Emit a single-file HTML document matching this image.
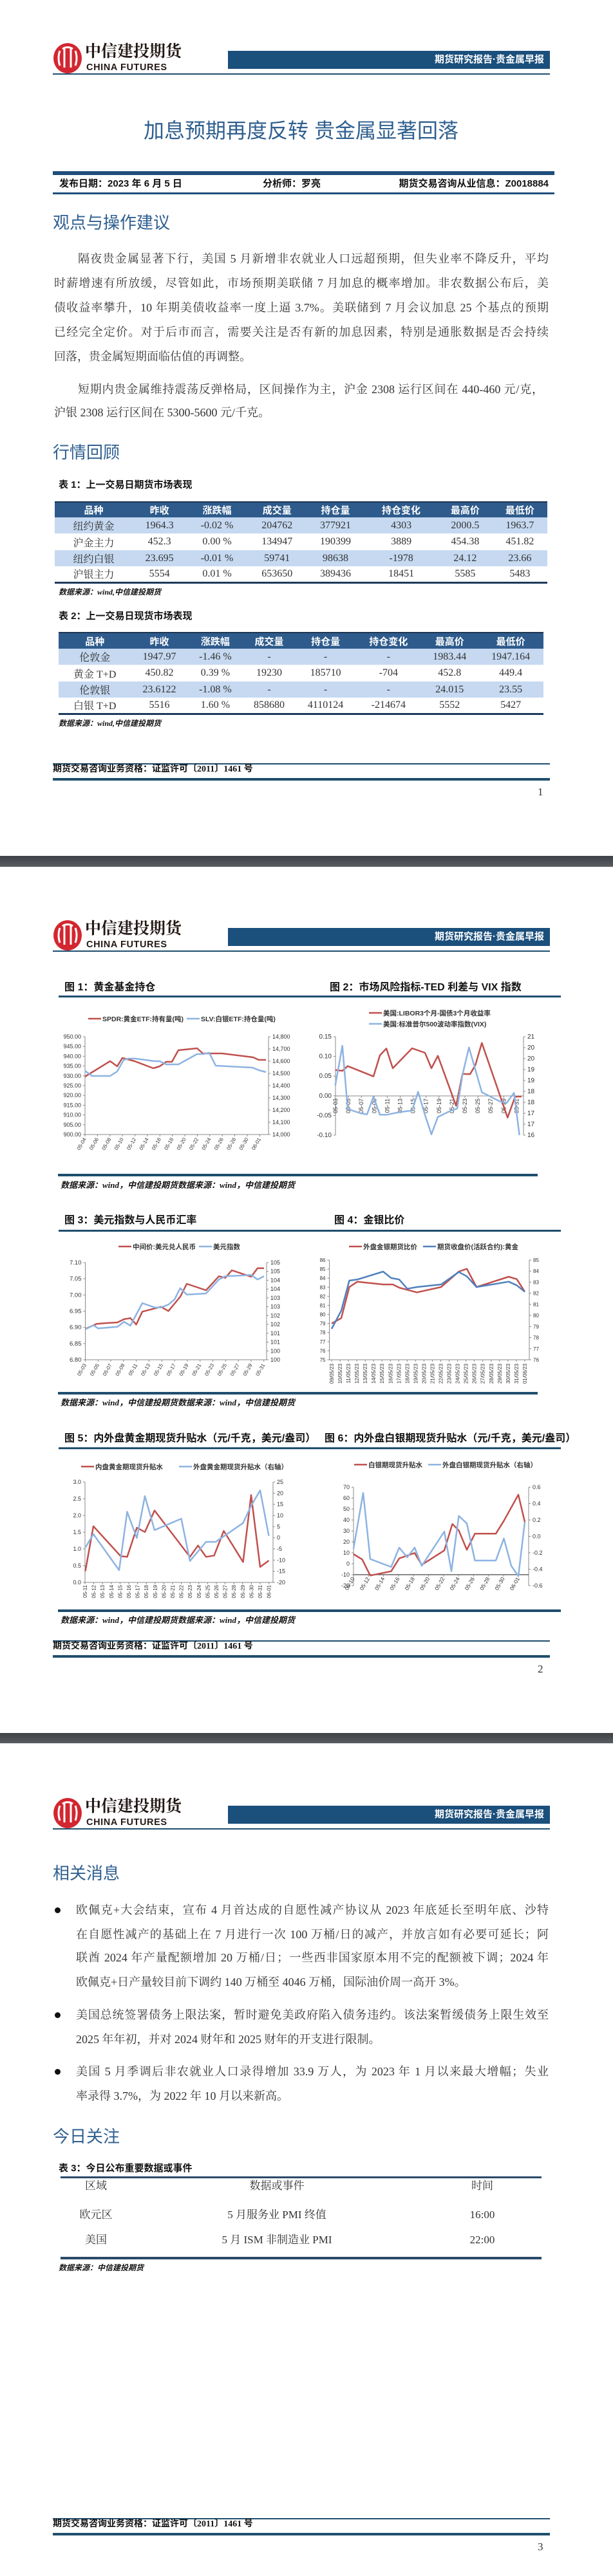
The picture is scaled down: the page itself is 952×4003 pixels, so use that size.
<!DOCTYPE html>
<html><head><meta charset="utf-8">
<style>
*{margin:0;padding:0;box-sizing:border-box}
body{width:952px;height:4003px;position:relative;background:#fff;overflow:hidden;font-family:"Liberation Serif","Noto Serif CJK SC",serif;color:#333}
.a{position:absolute}
.ln{position:absolute;height:38px;line-height:38px;font-size:18px;text-align:justify;text-align-last:justify;color:#333;font-family:"Liberation Serif","Noto Serif CJK SC",serif}
.ll{text-align:left;text-align-last:left}
.h1{position:absolute;left:82px;font-size:26px;color:#2f5f8f;font-family:"Liberation Sans","Noto Sans CJK SC",sans-serif;line-height:34px;height:34px}
.tt{position:absolute;font-size:15px;font-weight:bold;color:#111;font-family:"Liberation Sans","Noto Sans CJK SC",sans-serif;line-height:20px;height:20px}
.src{position:absolute;font-size:12px;font-weight:bold;font-style:italic;color:#111;font-family:"Liberation Serif","Noto Sans CJK SC",serif;line-height:16px;height:16px}
table{position:absolute;border-collapse:collapse;font-family:"Liberation Serif","Noto Serif CJK SC",serif;font-size:16px;color:#333}
td,th{text-align:center;padding:0;white-space:nowrap}
th{background:#2e5b8c;color:#fff;font-family:"Liberation Sans","Noto Sans CJK SC",sans-serif;font-size:15px;font-weight:bold}
tr.b td{background:#c6d9f1}
</style></head><body>
<div id="hf"></div>

<!-- PAGE 1 -->
<div class="a" style="left:0;top:183px;width:935px;text-align:center;font-size:32px;line-height:40px;color:#2f5f8f;font-family:'Liberation Sans','Noto Sans CJK SC',sans-serif">加息预期再度反转 贵金属显著回落</div>
<div class="a" style="left:82px;top:266px;width:779px;height:6px;background:#1f4e7a"></div>
<div class="a" style="left:92px;top:276px;font-size:15px;font-weight:bold;line-height:20px;color:#111;font-family:'Liberation Sans','Noto Sans CJK SC',sans-serif">发布日期：2023 年 6 月 5 日</div>
<div class="a" style="left:408px;top:276px;font-size:15px;font-weight:bold;line-height:20px;color:#111;font-family:'Liberation Sans','Noto Sans CJK SC',sans-serif">分析师：罗亮</div>
<div class="a" style="right:100px;top:276px;font-size:15px;font-weight:bold;line-height:20px;color:#111;font-family:'Liberation Sans','Noto Sans CJK SC',sans-serif">期货交易咨询从业信息：Z0018884</div>
<div class="a" style="left:82px;top:299px;width:779px;height:3px;background:#1f4e7a"></div>
<div class="h1" style="top:329px">观点与操作建议</div>
<div class="ln" style="left:121px;top:383px;width:731px">隔夜贵金属显著下行，美国 5 月新增非农就业人口远超预期，但失业率不降反升，平均</div>
<div class="ln" style="left:84px;top:421px;width:768px">时薪增速有所放缓，尽管如此，市场预期美联储 7 月加息的概率增加。非农数据公布后，美</div>
<div class="ln" style="left:84px;top:459px;width:768px">债收益率攀升，10 年期美债收益率一度上逼 3.7%。美联储到 7 月会议加息 25 个基点的预期</div>
<div class="ln" style="left:84px;top:497px;width:768px">已经完全定价。对于后市而言，需要关注是否有新的加息因素，特别是通胀数据是否会持续</div>
<div class="ln ll" style="left:84px;top:535px;width:768px">回落，贵金属短期面临估值的再调整。</div>
<div class="ln" style="left:121px;top:586px;width:723px">短期内贵金属维持震荡反弹格局，区间操作为主，沪金 2308 运行区间在 440-460 元/克，</div>
<div class="ln ll" style="left:84px;top:622px;width:768px">沪银 2308 运行区间在 5300-5600 元/千克。</div>
<div class="h1" style="top:686px">行情回顾</div>
<div class="tt" style="left:91px;top:744px">表 1：上一交易日期货市场表现</div>
<table style="left:85px;top:779px;width:765px;border-top:2px solid #1d3550;border-bottom:3px solid #1d3a5a">
<tr style="height:24px"><th>品种</th><th>昨收</th><th>涨跌幅</th><th>成交量</th><th>持仓量</th><th>持仓变化</th><th>最高价</th><th>最低价</th></tr>
<tr class="b" style="height:25px"><td>纽约黄金</td><td>1964.3</td><td>-0.02 %</td><td>204762</td><td>377921</td><td>4303</td><td>2000.5</td><td>1963.7</td></tr>
<tr style="height:26px"><td>沪金主力</td><td>452.3</td><td>0.00 %</td><td>134947</td><td>190399</td><td>3889</td><td>454.38</td><td>451.82</td></tr>
<tr class="b" style="height:25px"><td>纽约白银</td><td>23.695</td><td>-0.01 %</td><td>59741</td><td>98638</td><td>-1978</td><td>24.12</td><td>23.66</td></tr>
<tr style="height:25px"><td>沪银主力</td><td>5554</td><td>0.01 %</td><td>653650</td><td>389436</td><td>18451</td><td>5585</td><td>5483</td></tr>
</table>
<div class="src" style="left:91px;top:912px">数据来源：wind,中信建投期货</div>
<div class="tt" style="left:91px;top:948px">表 2：上一交易日现货市场表现</div>
<table style="left:91px;top:982px;width:753px;border-top:2px solid #1d3550;border-bottom:3px solid #1d3a5a">
<tr style="height:25px"><th>品种</th><th>昨收</th><th>涨跌幅</th><th>成交量</th><th>持仓量</th><th>持仓变化</th><th>最高价</th><th>最低价</th></tr>
<tr class="b" style="height:25px"><td>伦敦金</td><td>1947.97</td><td>-1.46 %</td><td>-</td><td>-</td><td>-</td><td>1983.44</td><td>1947.164</td></tr>
<tr style="height:26px"><td>黄金 T+D</td><td>450.82</td><td>0.39 %</td><td>19230</td><td>185710</td><td>-704</td><td>452.8</td><td>449.4</td></tr>
<tr class="b" style="height:25px"><td>伦敦银</td><td>23.6122</td><td>-1.08 %</td><td>-</td><td>-</td><td>-</td><td>24.015</td><td>23.55</td></tr>
<tr style="height:25px"><td>白银 T+D</td><td>5516</td><td>1.60 %</td><td>858680</td><td>4110124</td><td>-214674</td><td>5552</td><td>5427</td></tr>
</table>
<div class="src" style="left:91px;top:1116px">数据来源：wind,中信建投期货</div>

<!-- PAGE 2 titles -->
<div class="tt" style="left:100px;top:1525px;font-size:16px">图 1：黄金基金持仓</div>
<div class="tt" style="left:512px;top:1525px;font-size:16px">图 2：市场风险指标-TED 利差与 VIX 指数</div>
<div class="a" style="left:91px;top:1547px;width:780px;height:3px;background:#1f4e6e"></div>
<div class="a" style="left:90px;top:1824px;width:745px;height:4px;background:#1f4e6e"></div>
<div class="src" style="left:94px;top:1834px;font-size:13px">数据来源：wind，中信建投期货数据来源：wind，中信建投期货</div>
<div class="tt" style="left:100px;top:1887px;font-size:16px">图 3：美元指数与人民币汇率</div>
<div class="tt" style="left:519px;top:1887px;font-size:16px">图 4：金银比价</div>
<div class="a" style="left:91px;top:1911px;width:780px;height:3px;background:#1f4e6e"></div>
<div class="a" style="left:90px;top:2163px;width:745px;height:4px;background:#1f4e6e"></div>
<div class="src" style="left:94px;top:2172px;font-size:13px">数据来源：wind，中信建投期货数据来源：wind，中信建投期货</div>
<div class="tt" style="left:100px;top:2226px;font-size:16px">图 5：内外盘黄金期现货升贴水（元/千克，美元/盎司）</div>
<div class="tt" style="left:504px;top:2226px;font-size:16px">图 6：内外盘白银期现货升贴水（元/千克，美元/盎司）</div>
<div class="a" style="left:91px;top:2249px;width:780px;height:3px;background:#1f4e6e"></div>
<div class="a" style="left:90px;top:2501px;width:781px;height:4px;background:#1f4e6e"></div>
<div class="src" style="left:94px;top:2510px;font-size:13px">数据来源：wind，中信建投期货数据来源：wind，中信建投期货</div>

<!-- PAGE 3 -->
<div class="h1" style="top:2894px">相关消息</div>
<div id="bul"></div>
<div class="ln" style="left:118px;top:2949px;width:734px">欧佩克+大会结束，宣布 4 月首达成的自愿性减产协议从 2023 年底延长至明年底、沙特</div>
<div class="ln" style="left:118px;top:2987px;width:734px">在自愿性减产的基础上在 7 月进行一次 100 万桶/日的减产，并放言如有必要可延长；阿</div>
<div class="ln" style="left:118px;top:3023px;width:734px">联酋 2024 年产量配额增加 20 万桶/日；一些西非国家原本用不完的配额被下调；2024 年</div>
<div class="ln ll" style="left:118px;top:3061px;width:734px">欧佩克+日产量较目前下调约 140 万桶至 4046 万桶，国际油价周一高开 3%。</div>
<div class="ln" style="left:118px;top:3112px;width:734px">美国总统签署债务上限法案，暂时避免美政府陷入债务违约。该法案暂缓债务上限生效至</div>
<div class="ln ll" style="left:118px;top:3150px;width:734px">2025 年年初，并对 2024 财年和 2025 财年的开支进行限制。</div>
<div class="ln" style="left:118px;top:3200px;width:734px">美国 5 月季调后非农就业人口录得增加 33.9 万人，为 2023 年 1 月以来最大增幅；失业</div>
<div class="ln ll" style="left:118px;top:3238px;width:734px">率录得 3.7%，为 2022 年 10 月以来新高。</div>
<div class="h1" style="top:3303px">今日关注</div>
<div class="tt" style="left:91px;top:3360px">表 3：今日公布重要数据或事件</div>
<div class="a" style="left:94px;top:3382px;width:747px;height:3px;background:#2a4a6a"></div>
<div class="a" style="left:94px;top:3507px;width:747px;height:4px;background:#2a4a6a"></div>
<div class="src" style="left:91px;top:3516px">数据来源：中信建投期货</div>
<div id="t3"></div>

<svg class="a" style="left:0;top:0" width="952" height="4003" id="sv" xmlns="http://www.w3.org/2000/svg"></svg>

<script>
var hf='';
function hdr(o){
 hf+='<div class="a" style="left:83px;top:'+(67+o)+'px;width:44px;height:47px;border-radius:50%;background:#d32630"></div>';
 hf+='<svg class="a" style="left:83px;top:'+(67+o)+'px" width="44" height="47"><g stroke="#fff" stroke-width="3" fill="none"><path d="M10 12 Q6 23 10 35"/><path d="M17 9 V38"/><path d="M27 9 V38"/><path d="M34 12 Q38 23 34 35"/><path d="M14 9 Q22 4 30 9"/></g></svg>';
 hf+='<div class="a" style="left:132px;top:'+(66+o)+'px;font-size:25px;line-height:30px;font-weight:bold;color:#231815;letter-spacing:0px;font-family:\'Liberation Serif\',\'Noto Serif CJK SC\',serif">中信建投期货</div>';
 hf+='<div class="a" style="left:134px;top:'+(97+o)+'px;font-size:14.5px;line-height:16px;font-weight:bold;color:#231815;letter-spacing:0.6px;font-family:\'Liberation Sans\',sans-serif">CHINA FUTURES</div>';
 hf+='<div class="a" style="left:354px;top:'+(79+o)+'px;width:500px;height:28px;background:#1b4f7c;color:#fff;font-weight:bold;font-size:15px;line-height:28px;text-align:right;padding-right:9px;font-family:\'Liberation Sans\',\'Noto Sans CJK SC\',sans-serif">期货研究报告·贵金属早报</div>';
 hf+='<div class="a" style="left:82px;top:'+(114+o)+'px;width:772px;height:2px;background:#1f4e6e"></div>';
}
function ftr(o,n){
 hf+='<div class="a" style="left:82px;top:'+(1186+o)+'px;width:772px;height:2px;background:#1f4e6e"></div>';
 hf+='<div class="a" style="left:82px;top:'+(1187+o)+'px;font-size:14px;line-height:18px;font-weight:bold;color:#111;font-family:\'Liberation Serif\',\'Noto Sans CJK SC\',serif">期货交易咨询业务资格：证监许可〔2011〕1461 号</div>';
 hf+='<div class="a" style="left:82px;top:'+(1209+o)+'px;width:772px;height:4px;background:#1f4e6e"></div>';
 hf+='<div class="a" style="left:835px;top:'+(1221+o)+'px;font-size:17px;line-height:20px;color:#333">'+n+'</div>';
}
hdr(0);hdr(1363);hdr(2727);ftr(0,1);ftr(1363,2);ftr(2727,3);
hf+='<div class="a" style="left:0;top:1330px;width:952px;height:17px;background:linear-gradient(#3d4146,#5a5e63)"></div>';
hf+='<div class="a" style="left:0;top:2693px;width:952px;height:16px;background:linear-gradient(#3d4146,#5a5e63)"></div>';
[2968,3131,3219].forEach(function(y){hf+='<div class="a" style="left:85px;top:'+(y-4)+'px;width:9px;height:9px;border-radius:50%;background:#111"></div>';});
var t3=[['区域','数据或事件','时间',3397],['欧元区','5 月服务业 PMI 终值','16:00',3442],['美国','5 月 ISM 非制造业 PMI','22:00',3481]];
t3.forEach(function(r){
 var st='position:absolute;top:'+(r[3]-11)+'px;font-size:17px;line-height:22px;color:#333;transform:translateX(-50%);white-space:nowrap;';
 hf+='<div style="'+st+'left:149px">'+r[0]+'</div><div style="'+st+'left:430px">'+r[1]+'</div><div style="'+st+'left:749px">'+r[2]+'</div>';
});
document.getElementById('hf').innerHTML=hf;

var s='';var RED='#c0504d',LB='#8db3e2',DB='#4f81bd';
var F='font-family="Liberation Sans, Noto Sans CJK SC, sans-serif"';
function L(x1,y1,x2,y2,c,w){s+='<line x1="'+x1+'" y1="'+y1+'" x2="'+x2+'" y2="'+y2+'" stroke="'+c+'" stroke-width="'+w+'"/>';}
function T(x,y,t,a,sz,ex){s+='<text x="'+x+'" y="'+y+'" '+F+' font-size="'+(sz||9)+'" fill="#333" text-anchor="'+(a||'start')+'" '+(ex||'')+'>'+t+'</text>';}
function PL(p,c,w){s+='<polyline fill="none" stroke="'+c+'" stroke-width="'+(w||2.5)+'" stroke-linejoin="round" points="'+p.map(function(q){return q[0].toFixed(1)+','+q[1].toFixed(1)}).join(' ')+'"/>';}
function CV(a,x0,y0,sx,sy){var r=[];for(var i=0;i<a.length;i+=2)r.push([x0+a[i]/sx,y0+a[i+1]/sy]);return r;}
function YA(x,yt,yb,labs,side,sz){L(x,yt,x,yb,'#888',1);var n=labs.length;for(var i=0;i<n;i++){var y=yt+(yb-yt)*i/(n-1);L(side=='l'?x-3:x,y,side=='l'?x:x+3,y,'#888',1);if(side=='l')T(x-6,y+3,labs[i],'end',sz);else T(x+6,y+3,labs[i],'start',sz);}}
function LEG(x,y,c,t){L(x,y,x+20,y,c,2.5);T(x+22,y+4,t,'start',10.5,'font-weight="bold" fill="#222"');}

// Chart 1
LEG(137,1583,RED,'SPDR:黄金ETF:持有量(吨)');LEG(290,1583,LB,'SLV:白银ETF:持仓量(吨)');
YA(132,1611,1763,['950.00','945.00','940.00','935.00','930.00','925.00','920.00','915.00','910.00','905.00','900.00'],'l',9);
YA(417,1611,1763,['14,800','14,700','14,600','14,500','14,400','14,300','14,200','14,100','14,000'],'r',9);
L(132,1763,417,1763,'#888',1);
var d1=['05-04','05-06','05-08','05-10','05-12','05-14','05-16','05-18','05-20','05-22','05-24','05-26','05-28','05-30','06-01'];
d1.forEach(function(t,i){var x=132+19.38*i;L(x,1763,x,1766,'#888',1);T(x+2,1770,t,'end',8,'transform="rotate(-60 '+(x+2)+' 1770)"');});
PL([[132,1673],[171,1649],[182,1657],[190,1644],[209,1649],[238,1660],[248,1657],[258,1650],[267,1650],[277,1632],[306,1629],[315,1637],[345,1637],[393,1643],[402,1647],[413,1647]],RED);
PL([[132,1664],[143,1672],[171,1672],[182,1665],[192,1647],[200,1645],[210,1645],[240,1649],[248,1649],[258,1654],[277,1654],[306,1638],[315,1638],[325,1636],[335,1656],[392,1659],[402,1663],[413,1666]],LB);

// Chart 2
LEG(573,1574,RED,'美国:LIBOR3个月-国债3个月收益率');LEG(573,1591,LB,'美国:标准普尔500波动率指数(VIX)');
YA(521,1611,1764,['0.15','0.10','0.05','0.00','-0.05','-0.10'],'l',10);
YA(813,1611,1764,['21','20','20','19','19','18','18','17','17','16'],'r',10);
L(521,1703,813,1703,'#888',1);
for(var i=0;i<15;i++){var x=521+20.1*i,dd=3+2*i;L(x,1703,x,1706,'#888',1);T(x+3,1707,'05-'+(dd<10?'0'+dd:dd),'end',9,'transform="rotate(-90 '+(x+3)+' 1707)"');}
PL(CV([92,308,125,312,150,290,270,338,300,240,330,208,360,300,450,207,510,228,540,300,570,242,655,475,685,326,720,328,745,285,775,182,895,530,930,432,960,432],490,1560,3,3),RED);
PL(CV([92,380,125,195,150,490,210,510,240,515,270,432,300,517,330,517,390,505,450,497,478,410,510,518,540,608,570,527,630,498,660,488,685,330,715,203,775,412,860,455,890,462,925,415,950,612],490,1560,3,3),LB);

// Chart 3
LEG(184,1937,RED,'中间价:美元兑人民币');LEG(309,1937,LB,'美元指数');
YA(132.5,1962,2113,['7.10','7.05','7.00','6.95','6.90','6.85','6.80'],'l',9.5);
YA(414,1962,2113,['105','105','104','104','103','103','102','102','101','101','100','100'],'r',9);
L(132.5,2113,414,2113,'#888',1);
for(var i=0;i<15;i++){var x=132.5+19.8*i,dd=3+2*i;L(x,2113,x,2116,'#888',1);T(x+2,2121,'05-'+(dd<10?'0'+dd:dd),'end',8,'transform="rotate(-60 '+(x+2)+' 2121)"');}
PL(CV([85,435,120,412,150,408,185,405,205,390,225,385,243,415,262,355,320,332,343,352,380,285,400,225,460,255,500,190,520,197,540,162,600,192,620,152,640,152],90,1920,2,3),RED);
PL(CV([85,437,110,418,125,433,185,425,205,402,225,420,262,315,300,335,320,335,343,322,362,298,380,245,400,275,460,270,500,205,520,190,600,184,620,205,640,190],90,1920,2,3),LB);

// Chart 4
LEG(542,1937,RED,'外盘金银期货比价');LEG(657,1937,DB,'期货收盘价(活跃合约):黄金');
YA(511.5,1958,2113,['86','85','84','83','82','81','80','79','78','77','76','75'],'l',8);
YA(822,1958,2113,['85','84','83','82','81','80','79','78','77','76'],'r',8);
L(511.5,2113,822,2113,'#888',1);
for(var i=0;i<24;i++){var x=515+13.04*i,t=i<23?((9+i<10?'0':'')+(9+i)+'/05/23'):'01/06/23';L(x,2113,x,2116,'#888',1);T(x+3,2119,t,'end',8,'transform="rotate(-90 '+(x+3)+' 2119)"');}
PL(CV([850,410,880,385,905,240,930,215,1010,228,1040,228,1060,243,1115,265,1190,240,1245,168,1270,155,1300,240,1400,192,1425,203,1450,262],90,1920,2,3),RED);
PL(CV([850,435,880,350,905,210,930,205,1010,168,1035,198,1060,205,1085,248,1115,240,1190,228,1245,170,1270,190,1300,240,1400,215,1425,232,1450,262],90,1920,2,3),DB);

// Chart 5
LEG(126,2279,RED,'内盘黄金期现货升贴水');LEG(278,2279,LB,'外盘黄金期现货升贴水（右轴）');
YA(132,2303,2459,['3.0','2.5','2.0','1.5','1.0','0.5','0.0'],'l',9);
YA(424,2303,2459,['25','20','15','10','5','0','-5','-10','-15','-20'],'r',9);
L(132,2459,424,2459,'#888',1);
for(var i=0;i<22;i++){var x=132+13.6*i,t=i<21?'05-'+(11+i):'06-01';L(x,2459,x,2462,'#888',1);T(x+3,2463,t,'end',8,'transform="rotate(-90 '+(x+3)+' 2463)"');}
PL(CV([85,545,110,335,195,475,215,478,245,342,270,362,300,262,410,478,435,425,460,478,485,472,515,357,575,502,600,190,628,525,655,495],90,2260,2,3),RED);
PL(CV([85,435,110,372,190,540,215,268,245,390,270,195,300,353,383,300,410,497,460,408,490,408,575,320,600,240,628,168,655,380],90,2260,2,3),LB);

// Chart 6
LEG(550,2276,RED,'白银期现货升贴水');LEG(665,2276,LB,'外盘白银期现货升贴水（右轴）');
YA(549,2311,2464,['70','60','50','40','30','20','10','0','-10','-20'],'l',9);
YA(821,2311,2464,['0.6','0.4','0.2','0.0','-0.2','-0.4','-0.6'],'r',9);
L(549,2447,821,2447,'#444',1.2);
var d6=['05-10','05-12','05-14','05-16','05-18','05-20','05-22','05-24','05-26','05-28','05-30','06-01'];
d6.forEach(function(t,i){var x=549+23.3*i;L(x,2447,x,2450,'#888',1);T(x+2,2453,t,'end',8.5,'transform="rotate(-60 '+(x+2)+' 2453)"');});
PL(CV([918,465,945,490,970,565,1035,545,1060,485,1108,460,1130,515,1200,448,1225,325,1245,355,1270,445,1295,370,1360,370,1385,310,1430,188,1450,315],90,2260,2,3),RED);
PL(CV([918,440,948,180,970,488,1035,525,1060,435,1085,480,1108,435,1130,520,1200,360,1222,545,1245,287,1270,322,1295,495,1360,495,1385,392,1408,520,1430,568,1450,315],90,2260,2,3),LB);

document.getElementById('sv').innerHTML=s;
</script>
</body></html>
